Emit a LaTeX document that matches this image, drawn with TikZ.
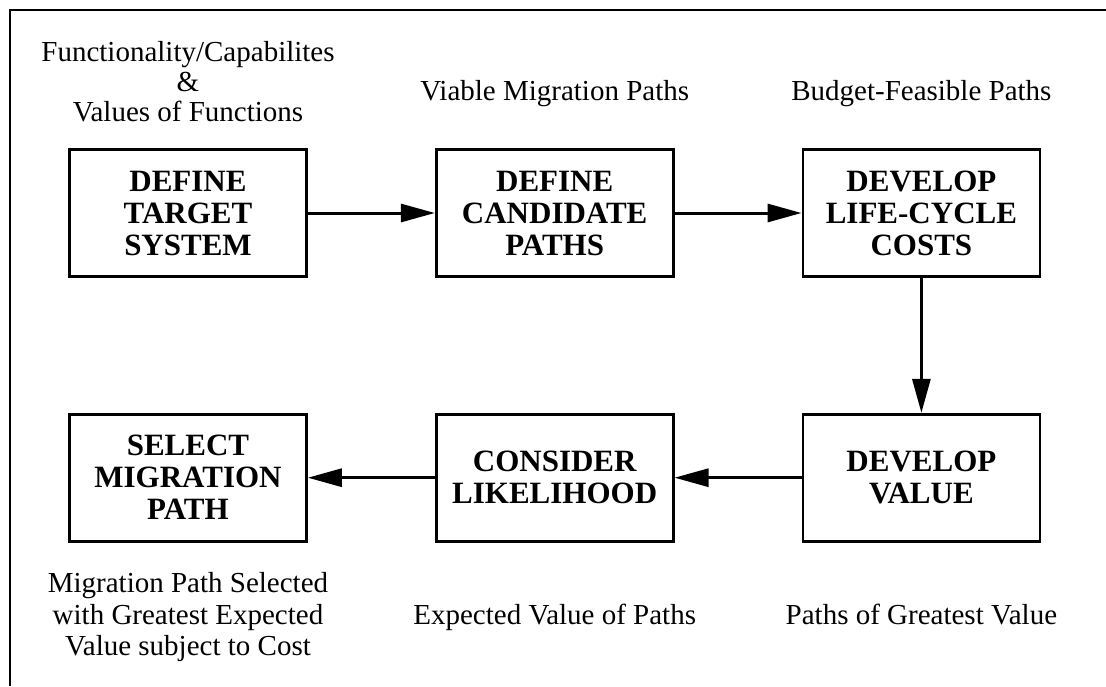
\documentclass[tikz,border=0pt]{standalone}
\usepackage{fontspec}
\setmainfont{Liberation Serif}
\usepackage{tikz}
\usetikzlibrary{positioning}
\usetikzlibrary{arrows.meta}
\tikzstyle{line} = [draw, line width=3pt, -{Triangle[length=34pt,width=18pt]}]

\begin{document}
\begin{tikzpicture}[x=1pt,y=-1pt,
      node distance=135pt and 127pt,
      stage/.style={draw,
      line width=2.7pt,
      minimum width=237pt,
      minimum height=127pt,
      inner sep=0pt,
      align=center,
      font=\fontsize{31}{32}\selectfont\bfseries},
      note/.style={inner sep=0pt,
      align=center,
      font=\fontsize{29}{30}\selectfont}]
    \useasboundingbox (0,0) rectangle (1106,686);
    %% frame
    \draw [line width=2.7pt] (10,686) |- (1106,10);
    %% steps
    \node [stage] (T) at (188,213) {DEFINE\\TARGET\\SYSTEM};
    \node [stage, right=of T] (C) {DEFINE\\CANDIDATE\\PATHS};
    \node [stage, right=of C] (L) {DEVELOP\\LIFE-CYCLE\\COSTS};
    \node [stage, below=of L] (V) {DEVELOP\\VALUE};
    \node [stage, left=of V] (K) {CONSIDER\\LIKELIHOOD};
    \node [stage, left=of K] (S) {SELECT\\MIGRATION\\PATH};
    %% outputs
    \node [note, above=26pt of T] (Tout) {Functionality/Capabilites\\\&\\Values of Functions};
    \node [note, above=41pt of C] (Cout) {Viable Migration Paths};
    \node [note, above=41pt of L] (Lout) {Budget-Feasible Paths};
    \node [note, below=61pt of V] (Vout) {Paths of Greatest Value};
    \node [note, below=61pt of K] (Kout) {Expected Value of Paths};
    \node [note, below=30pt of S, font=\fontsize{29}{31.5}\selectfont] (Sout) {Migration Path Selected\\with Greatest Expected\\Value subject to Cost};
    %% flow
    \path [line] (T) to (C);
    \path [line] (C) to (L);
    \path [line] (L) to (V);
    \path [line] (V) to (K);
    \path [line] (K) to (S);
\end{tikzpicture}
\end{document}
